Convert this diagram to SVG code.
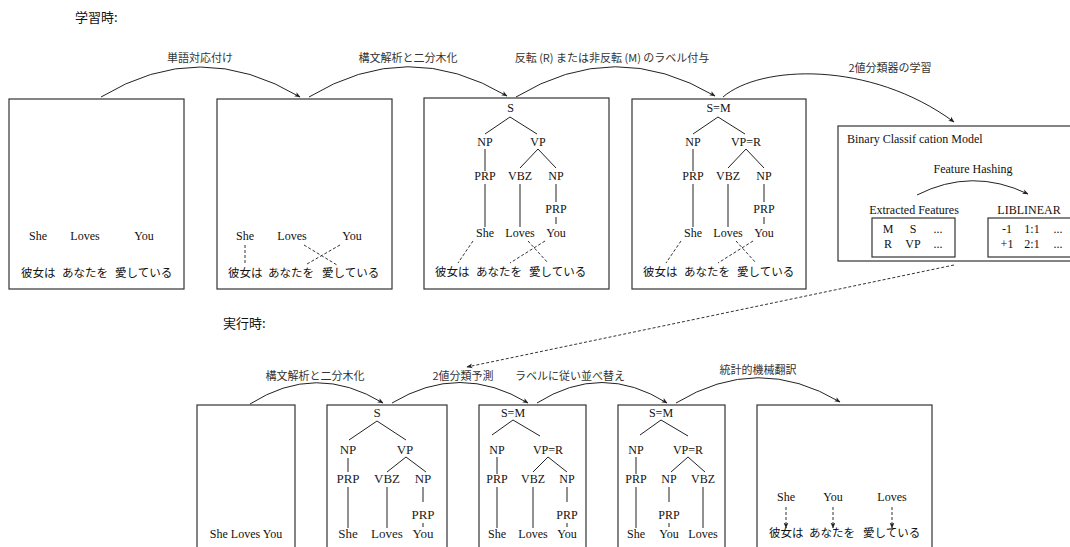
<svg xmlns="http://www.w3.org/2000/svg" width="1070" height="547" viewBox="0 0 1070 547">
<style>
.box{fill:#fff;stroke:#333;stroke-width:1.2}
.t{font-family:"Liberation Serif","Times New Roman",serif;font-size:12px;fill:#111;text-anchor:middle}
.tb{font-family:"Liberation Serif","Times New Roman",serif;font-size:13px;fill:#222;text-anchor:middle}
.tl{font-family:"Liberation Serif","Times New Roman",serif;font-size:12px;fill:#111}
.j{font-family:"Noto Sans CJK JP",sans-serif;font-size:11.5px;fill:#111}
.lab{font-family:"Noto Sans CJK JP",sans-serif;font-size:11px;fill:#333;text-anchor:middle}
.hd{font-family:"Noto Sans CJK JP",sans-serif;font-size:13px;fill:#111}
.e{stroke:#222;stroke-width:1;fill:none}
.d{stroke:#333;stroke-width:1;fill:none;stroke-dasharray:3 2}
.arc{stroke:#222;stroke-width:1;fill:none;marker-end:url(#ah)}
.da{stroke:#333;stroke-width:1;fill:none;stroke-dasharray:3 2;marker-end:url(#ah)}
</style>
<defs>
<marker id="ah" viewBox="0 0 10 10" refX="9" refY="5" markerWidth="6" markerHeight="6" orient="auto" markerUnits="userSpaceOnUse"><path d="M0,1 L10,5 L0,9 L2.5,5 z" fill="#222"/></marker>
</defs>
<rect width="1070" height="547" fill="#fff"/>

<text class="hd" x="75" y="22">学習時:</text>
<text class="hd" x="223" y="328">実行時:</text>

<!-- Top row -->
<g id="box1">
<rect class="box" x="9" y="99" width="175" height="190"/>
<text class="t" x="38" y="240">She</text><text class="t" x="85" y="240">Loves</text><text class="t" x="144" y="240">You</text>
<text class="j" x="21" y="277">彼女は</text><text class="j" x="62" y="277">あなたを</text><text class="j" x="115" y="277">愛している</text>
</g>

<g id="box2">
<rect class="box" x="217" y="99" width="175" height="190"/>
<text class="t" x="245" y="240">She</text><text class="t" x="292" y="240">Loves</text><text class="t" x="352" y="240">You</text>
<line class="d" x1="245" y1="245" x2="245" y2="264"/>
<line class="d" x1="304" y1="245" x2="337" y2="265"/>
<line class="d" x1="340" y1="245" x2="307" y2="264"/>
<text class="j" x="228" y="277">彼女は</text><text class="j" x="268" y="277">あなたを</text><text class="j" x="322" y="277">愛している</text>
</g>

<g id="box3">
<rect class="box" x="424" y="98" width="185" height="191"/>
<text class="t" x="510.5" y="112">S</text>
<path class="e" d="M510,117 L485,134 M510,117 L537,134"/>
<text class="t" x="485" y="146">NP</text><text class="t" x="538" y="146">VP</text>
<path class="e" d="M485,149 V171 M538,149 L520,168 M538,149 L556,168"/>
<text class="t" x="485" y="180">PRP</text><text class="t" x="520" y="180">VBZ</text><text class="t" x="556" y="180">NP</text>
<path class="e" d="M485,184 V227 M520,184 V227 M556,184 V202"/>
<text class="t" x="556" y="213">PRP</text>
<path class="e" d="M556,217 V224"/>
<text class="t" x="485" y="237">She</text><text class="t" x="520" y="237">Loves</text><text class="t" x="556" y="237">You</text>
<path class="d" d="M473,241 L458,263 M528,241 L548,263 M545,241 L510,263"/>
<text class="j" x="435" y="276">彼女は</text><text class="j" x="476" y="276">あなたを</text><text class="j" x="529" y="276">愛している</text>
</g>

<g id="box4">
<rect class="box" x="632" y="99" width="174" height="190"/>
<text class="t" x="718.5" y="112">S=M</text>
<path class="e" d="M718,117 L693,134 M718,117 L745,134"/>
<text class="t" x="693" y="146">NP</text><text class="t" x="746" y="146">VP=R</text>
<path class="e" d="M693,149 V171 M746,149 L728,168 M746,149 L764,168"/>
<text class="t" x="693" y="180">PRP</text><text class="t" x="728" y="180">VBZ</text><text class="t" x="764" y="180">NP</text>
<path class="e" d="M693,184 V227 M728,184 V227 M764,184 V202"/>
<text class="t" x="764" y="213">PRP</text>
<path class="e" d="M764,217 V224"/>
<text class="t" x="693" y="237">She</text><text class="t" x="728" y="237">Loves</text><text class="t" x="764" y="237">You</text>
<path class="d" d="M681,241 L666,263 M736,241 L756,263 M753,241 L718,263"/>
<text class="j" x="643" y="276">彼女は</text><text class="j" x="684" y="276">あなたを</text><text class="j" x="737" y="276">愛している</text>
</g>

<g id="model">
<rect class="box" x="838" y="126" width="240" height="135"/>
<text class="tl" x="847" y="143">Binary Classif cation Model</text>
<text class="t" x="973" y="173">Feature Hashing</text>
<path class="arc" d="M917,195 Q972,167 1028,194"/>
<text class="t" x="914" y="214">Extracted Features</text>
<text class="t" x="1029" y="214">LIBLINEAR</text>
<rect class="box" x="872" y="218" width="83" height="39"/>
<text class="t" x="888" y="233">M</text><text class="t" x="913" y="233">S</text><text class="t" x="938" y="233">...</text>
<text class="t" x="888" y="248">R</text><text class="t" x="913" y="248">VP</text><text class="t" x="938" y="248">...</text>
<rect class="box" x="988" y="218" width="100" height="39"/>
<text class="t" x="1007" y="233">-1</text><text class="t" x="1032" y="233">1:1</text><text class="t" x="1058" y="233">...</text>
<text class="t" x="1007" y="248">+1</text><text class="t" x="1032" y="248">2:1</text><text class="t" x="1058" y="248">...</text>
</g>

<!-- Bottom row -->
<g id="boxA">
<rect class="box" x="197" y="405" width="98" height="160"/>
<text class="t" x="246" y="538">She Loves You</text>
</g>

<g id="boxB">
<rect class="box" x="327" y="405" width="120" height="160"/>
<text class="tb" x="377" y="417">S</text>
<path class="e" d="M377,421 L349,440 M377,421 L406,440"/>
<text class="tb" x="348" y="454">NP</text><text class="tb" x="405" y="454">VP</text>
<path class="e" d="M348,458 V472 M406,457 L387,472 M406,457 L426,472"/>
<text class="tb" x="348" y="483">PRP</text><text class="tb" x="387" y="483">VBZ</text><text class="tb" x="423" y="483">NP</text>
<path class="e" d="M348,487 V528 M387,487 V528 M423,487 V502"/>
<text class="tb" x="423" y="519">PRP</text>
<path class="e" d="M423,523 V527"/>
<text class="tb" x="348" y="538">She</text><text class="tb" x="387" y="538">Loves</text><text class="tb" x="423" y="538">You</text>
</g>

<g id="boxC">
<rect class="box" x="479" y="405" width="107" height="160"/>
<text class="t" x="513" y="417">S=M</text>
<path class="e" d="M513,420 L492,435 M513,420 L540,436"/>
<text class="t" x="497" y="454">NP</text><text class="t" x="548" y="454">VP=R</text>
<path class="e" d="M497,457 V474 M548,457 L533,472 M548,457 L567,472"/>
<text class="t" x="497" y="483">PRP</text><text class="t" x="533" y="483">VBZ</text><text class="t" x="567" y="483">NP</text>
<path class="e" d="M497,487 V528 M533,487 V528 M567,487 V502"/>
<text class="t" x="567" y="519">PRP</text>
<path class="e" d="M567,523 V527"/>
<text class="t" x="497" y="538">She</text><text class="t" x="533" y="538">Loves</text><text class="t" x="567" y="538">You</text>
</g>

<g id="boxD">
<rect class="box" x="618" y="405" width="107" height="160"/>
<text class="t" x="661" y="417">S=M</text>
<path class="e" d="M661,420 L640,435 M661,420 L688,436"/>
<text class="t" x="636" y="454">NP</text><text class="t" x="688" y="454">VP=R</text>
<path class="e" d="M636,457 V474 M688,457 L671,472 M688,457 L705,472"/>
<text class="t" x="636" y="483">PRP</text><text class="t" x="669" y="483">NP</text><text class="t" x="703" y="483">VBZ</text>
<path class="e" d="M636,487 V528 M669,487 V502 M703,487 V528"/>
<text class="t" x="669" y="519">PRP</text>
<path class="e" d="M669,523 V527"/>
<text class="t" x="636" y="538">She</text><text class="t" x="669" y="538">You</text><text class="t" x="703" y="538">Loves</text>
</g>

<g id="boxE">
<rect class="box" x="757" y="405" width="175" height="160"/>
<text class="t" x="786" y="501">She</text><text class="t" x="833" y="501">You</text><text class="t" x="892" y="501">Loves</text>
<path class="da" d="M786,507 V528"/>
<path class="da" d="M833,507 V528"/>
<path class="da" d="M892,507 V528"/>
<text class="j" x="769" y="537">彼女は</text><text class="j" x="809" y="537">あなたを</text><text class="j" x="863" y="537">愛している</text>
</g>

<g id="connectors">
<path class="arc" d="M101,97 Q200,37 300,97"/>
<text class="lab" x="200" y="62">単語対応付け</text>
<path class="arc" d="M309,97 Q408,37 507,96"/>
<text class="lab" x="408" y="62">構文解析と二分木化</text>
<path class="arc" d="M516,97 Q615,37 715,96"/>
<text class="lab" x="612" y="62">反転 (R) または非反転 (M) のラベル付与</text>
<path class="arc" d="M723,97 C760,65 870,60 954,122"/>
<text class="lab" x="890" y="72">2値分類器の学習</text>
<path class="da" d="M954,265 L467,367"/>
<path class="arc" d="M250,404 Q316,362 383,403"/>
<text class="lab" x="315" y="380">構文解析と二分木化</text>
<path class="arc" d="M392,403 Q460,362 528,403"/>
<text class="lab" x="463" y="380">2値分類予測</text>
<path class="arc" d="M537,403 Q602,362 667,403"/>
<text class="lab" x="570" y="380">ラベルに従い並べ替え</text>
<path class="arc" d="M676,403 Q758,353 840,402"/>
<text class="lab" x="758" y="374">統計的機械翻訳</text>
</g>
</svg>
